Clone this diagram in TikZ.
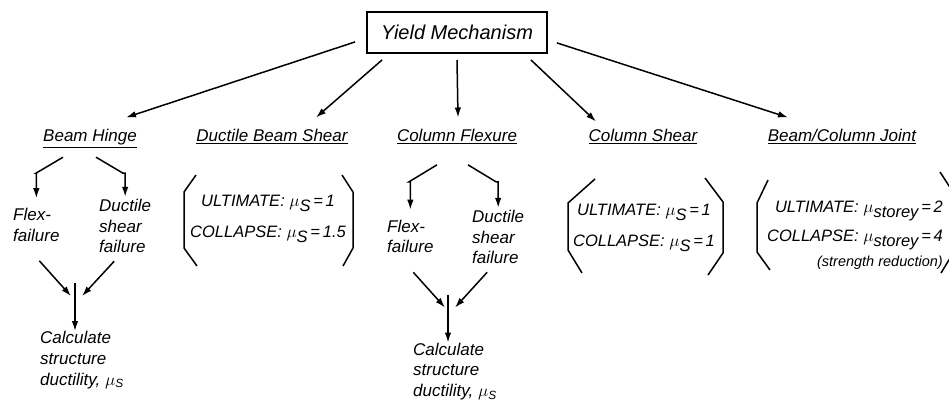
\documentclass[tikz,border=0pt]{standalone}
\usepackage{amsmath}
\usepackage{fontspec}
\setmainfont{Liberation Sans}
\usetikzlibrary{arrows.meta}

% ductility symbol with its subscript
\newcommand{\muof}[1]{{\fontsize{19}{19}\selectfont$\mu$}\raisebox{-5pt}{#1}\,=\,}

\begin{document}
\begin{tikzpicture}[x=1pt,y=-1pt,
box/.style={draw,line width=1.8pt,minimum width=180pt,minimum height=41pt,font=\fontsize{20}{24}\selectfont\itshape},
head/.style={anchor=base,inner sep=0pt,font=\fontsize{17}{20}\selectfont\itshape},
txt/.style={anchor=west,align=left,inner sep=0pt,font=\fontsize{17}{20.8}\selectfont\itshape},
rule/.style={inner sep=0pt,font=\fontsize{16.5}{31}\selectfont\itshape},
arr/.style={-{Latex[length=10pt,width=6.5pt]},line width=1.5pt},
brk/.style={line width=1.5pt}]
\useasboundingbox (0,0) rectangle (949,400);
\node[box] (ym) at (457,32.5) {Yield Mechanism};
\node[head] (bh) at (90,141) {\underline{Beam Hinge}};
\node[head] (dbs) at (272,141) {\underline{Ductile Beam Shear}};
\node[head] (cf) at (457,141) {\underline{Column Flexure}};
\node[head] (cs) at (643,141) {\underline{Column Shear}};
\node[head] (bcj) at (842,141) {\underline{Beam/Column Joint}};
\draw[arr] ([shift={(-11,-12)}]ym.south west) -- ([shift={(36,-11)}]bh.north);
\draw[arr] ([shift={(16,6)}]ym.south west) -- ([shift={(44,-11)}]dbs.north);
\draw[arr] ([shift={(0,6)}]ym.south) -- ([shift={(1,-11)}]cf.north);
\draw[arr] ([shift={(-17,6)}]ym.south east) -- ([shift={(-47,-7)}]cs.north);
\draw[arr] ([shift={(9,-11)}]ym.south east) -- ([shift={(-54,-11)}]bcj.north);

% beam hinge
\node[txt] (fl1) at (13,225) {Flex-\\failure};
\node[txt] (ds1) at (99,226) {Ductile\\shear\\failure};
\node[txt] (ca1) at (40,360) {Calculate\\structure\\ductility, $\mu_{\textit{S}}$};
\draw[arr,shorten >=10pt] ([shift={(-27,9)}]bh.south) -- ++(-27,16) -| (fl1.north);
\draw[arr,shorten >=2pt] ([shift={(6,9)}]bh.south) -- ++(27,16) -| (ds1.north);
\draw[arr] ([shift={(3,19)}]fl1.south) -- ([shift={(31,-35)}]ca1.north west);
\draw[arr] ([shift={(-11,8)}]ds1.south) -- ([shift={(42,-35)}]ca1.north west);
\draw[arr] ([shift={(35,-48)}]ca1.north west) -- ([xshift=35pt]ca1.north west);

% column flexure
\node[txt] (fl2) at (387,236.5) {Flex-\\failure};
\node[txt] (ds2) at (472,237) {Ductile\\shear\\failure};
\node[txt] (ca2) at (413,371.5) {Calculate\\structure\\ductility, $\mu_{\textit{S}}$};
\draw[arr,shorten >=10pt] ([shift={(-20,20)}]cf.south) -- ++(-28,17) -| (fl2.north);
\draw[arr,shorten >=2pt] ([shift={(11,20)}]cf.south) -- ++(28,17) -| (ds2.north);
\draw[arr] ([shift={(3,19)}]fl2.south) -- ([shift={(32,-35)}]ca2.north west);
\draw[arr] ([shift={(-11,8)}]ds2.south) -- ([shift={(42,-35)}]ca2.north west);
\draw[arr] ([shift={(35,-48)}]ca2.north west) -- ([xshift=35pt]ca2.north west);

% brackets
\node[rule,align=center] (dbsr) at (268,219) {ULTIMATE: \muof{S}1\\COLLAPSE: \muof{S}1.5};
\node[rule,align=center] (csr) at (644,227.5) {ULTIMATE: \muof{S}1\\COLLAPSE: \muof{S}1};
\node[rule,align=right,anchor=east,font=\fontsize{16.5}{29}\selectfont\itshape] (bcjr) at (943,235) {ULTIMATE: \muof{storey}2\\COLLAPSE: \muof{storey}4\\[-4pt]{\fontsize{14.5}{15}\selectfont(strength reduction)}};
\draw[brk] (196,175) -- (184,192) -- (184,248) -- (197,266);
\draw[brk] (342,175) -- (353,192) -- (353,248) -- (343,266);
\draw[brk] (595,179) -- (568,203) -- (568,250) -- (582,273);
\draw[brk] (705,178) -- (723,202) -- (723,253) -- (708,275);
\draw[brk] (768,180) -- (757,203) -- (757,252) -- (770,270);
\draw[brk] (940,172) -- (955,195) -- (955,250) -- (941,273);
\end{tikzpicture}
\end{document}
